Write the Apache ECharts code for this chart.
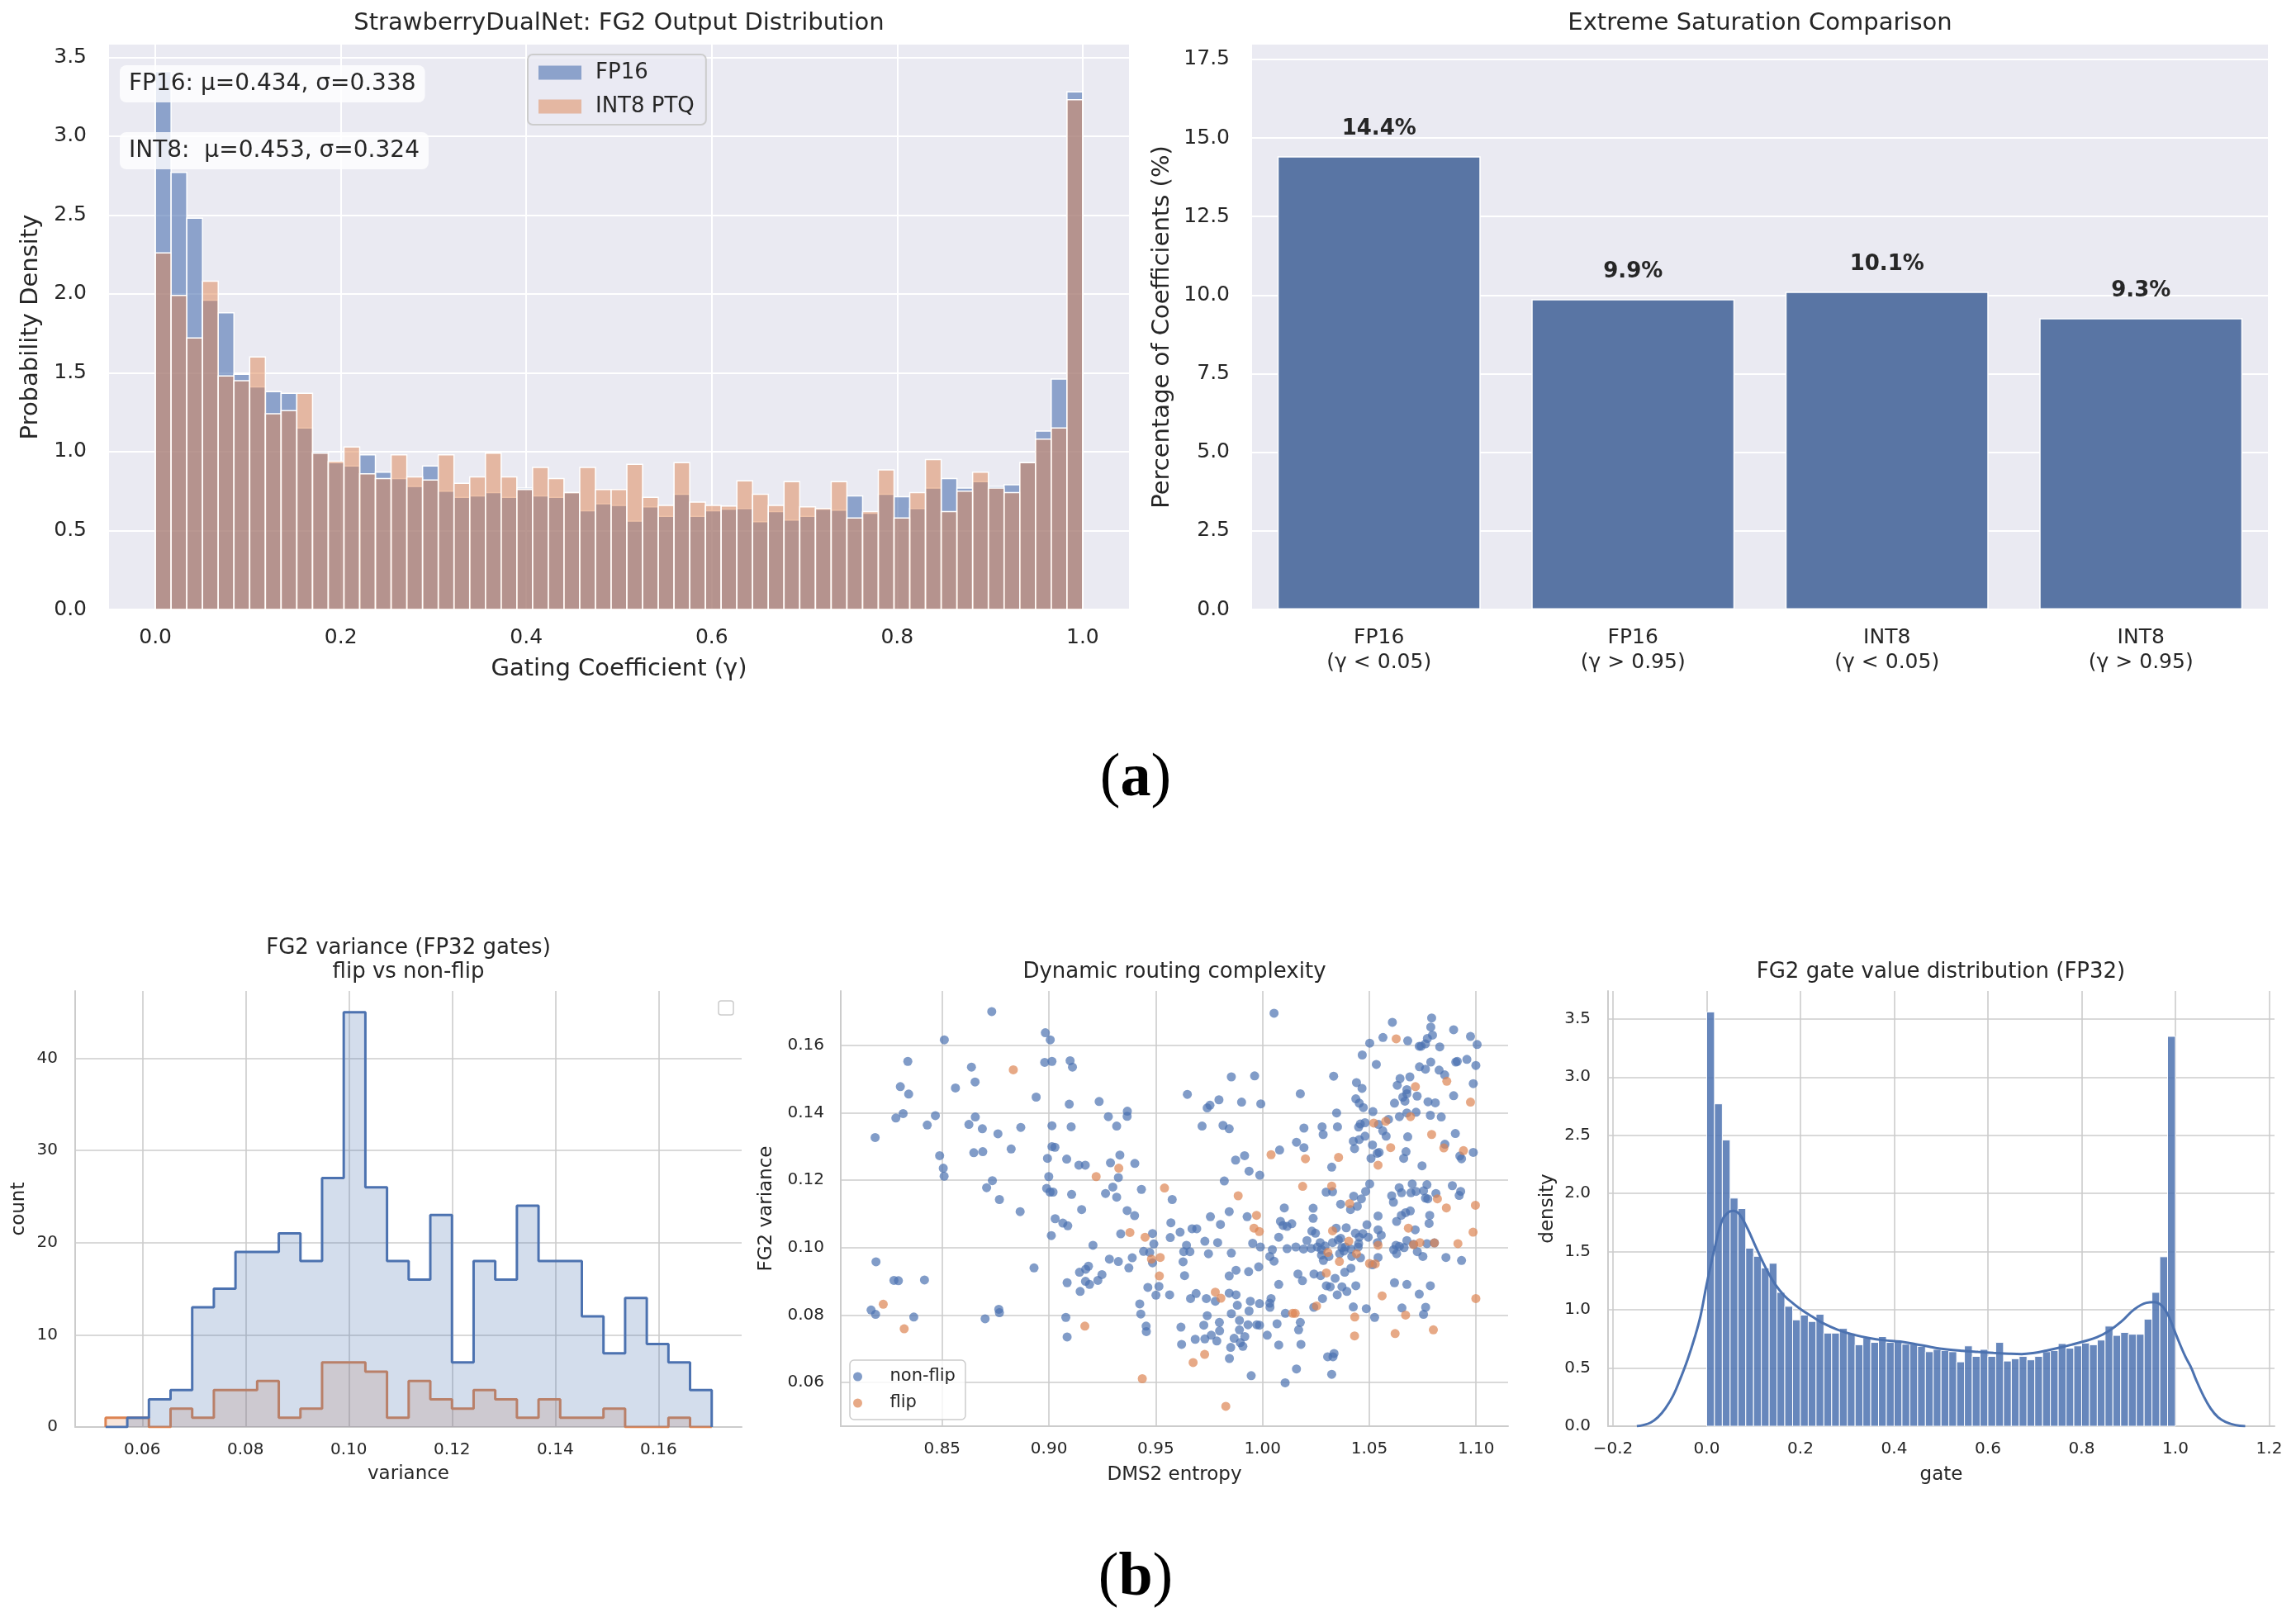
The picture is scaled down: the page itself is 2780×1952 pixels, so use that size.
<!DOCTYPE html>
<html><head><meta charset="utf-8">
<script src="https://cdn.jsdelivr.net/npm/echarts@6/dist/echarts.min.js"></script>
<style>html,body{margin:0;padding:0;background:#fff}#c{width:2780px;height:1952px}</style>
</head><body><div id="c"></div>
<script>
// ---------------- DATA ----------------
// (a) left: FG2 output distribution, 59 bins over [0,1]
const gammaBinCount = 59;
const fg2Fp16 = [3.41,2.77,2.48,1.96,1.88,1.49,1.41,1.38,1.37,1.15, 1.00,0.93,0.91,0.98,0.87,0.83,0.78,0.91,0.75,0.71, 0.72,0.74,0.71,0.77,0.72,0.71,0.74,0.625,0.67,0.66, 0.56,0.65,0.59,0.73,0.59,0.625,0.636,0.64,0.556,0.62, 0.567,0.59,0.636,0.63,0.72,0.61,0.73,0.715,0.64,0.77, 0.83,0.77,0.81,0.78,0.79,0.93,1.13,1.46,3.28];
const fg2Int8 = [2.26,1.99,1.72,2.08,1.48,1.45,1.60,1.24,1.26,1.37, 0.99,0.94,1.03,0.86,0.83,0.98,0.84,0.82,0.98,0.80, 0.84,0.99,0.84,0.76,0.90,0.83,0.74,0.90,0.76,0.76, 0.92,0.71,0.66,0.93,0.68,0.66,0.655,0.815,0.73,0.66, 0.81,0.65,0.64,0.81,0.58,0.62,0.885,0.58,0.74,0.95, 0.62,0.75,0.87,0.77,0.74,0.93,1.08,1.15,3.23];
const ticksGamma = [0,0.2,0.4,0.6,0.8,1.0];
const ticksDensTop = [0,0.5,1.0,1.5,2.0,2.5,3.0,3.5];

// (a) right: extreme saturation
const satCategories = ['FP16\n(\u03b3 < 0.05)','FP16\n(\u03b3 > 0.95)','INT8\n(\u03b3 < 0.05)','INT8\n(\u03b3 > 0.95)'];
const satValues = [14.42, 9.87, 10.11, 9.27];
const ticksPct = [0,2.5,5,7.5,10,12.5,15,17.5];

// (b) left: variance histogram (28 common bins)
const varBinLo = 0.0529, varBinHi = 0.1703;
const varNonFlipCounts = [0,1,3,4,13,15,19,19,21,18,27,45,26,18,16,23,7,18,16,24,18,18,12,8,14,9,7,4];
const varFlipCounts    = [1,1,0,2,1,4,4,5,1,2,7,7,6,1,5,3,2,4,3,1,3,1,1,2,0,0,1,0];
const ticksVar = [0.06,0.08,0.10,0.12,0.14,0.16];
const ticksCount = [0,10,20,30,40];

// (b) middle: scatter [DMS2 entropy, FG2 variance]
const scatterNonFlip = [
[0.8732,0.1701],[0.8983,0.1638],[0.9006,0.1617],[0.851,0.1617],[0.8339,0.1553],[0.8637,0.1536],[0.898,0.155],[0.9014,0.1553],[0.9099,0.1555],[0.911,0.1536],[0.8304,0.1478],[0.8343,0.1456],[0.8562,0.1474],[0.8654,0.1492],[0.894,0.1447],[0.9095,0.1426],[0.9235,0.1434],[0.9367,0.1405],[0.9366,0.139],[0.9278,0.1389],[0.9317,0.1361],[0.8317,0.1398],[0.8283,0.1385],[0.8468,0.1392],[0.843,0.1364],[0.8655,0.1388],[0.8625,0.1366],[0.8688,0.1353],[0.8761,0.1338],[0.8868,0.1357],[0.9014,0.1362],[0.9104,0.1359],[0.8186,0.1327],[0.8488,0.1273],[0.8648,0.1282],[0.869,0.1285],[0.8823,0.1293],[0.9014,0.13],[0.9028,0.1298],[0.8993,0.1265],[0.9083,0.1263],[0.914,0.1245],[0.917,0.1245],[0.9288,0.1252],[0.9332,0.1275],[0.9402,0.125],[0.9325,0.1208],[0.8505,0.1236],[0.8509,0.1212],[0.8735,0.1199],[0.8708,0.1178],[0.8999,0.1211],[0.8989,0.1176],[0.9005,0.1165],[0.9019,0.1165],[0.9106,0.1158],[0.9265,0.1161],[0.9299,0.118],[0.9317,0.115],[0.9433,0.1173],[0.9577,0.1143],[0.8768,0.1143],
[1.0054,0.1696],[1.0608,0.1669],[1.0792,0.1682],[1.0788,0.1655],[1.0895,0.1647],[1.0796,0.1631],[1.0772,0.1621],[1.0564,0.1624],[1.068,0.1614],[1.0502,0.1607],[1.0734,0.1598],[1.0743,0.1598],[1.0763,0.1605],[1.083,0.1596],[1.0974,0.1627],[1.1005,0.1603],[1.0467,0.1572],[1.0533,0.1544],[1.0788,0.1551],[1.0735,0.1537],[1.0763,0.153],[1.0827,0.1527],[1.0853,0.1513],[1.0905,0.1551],[1.0912,0.1553],[1.0957,0.1559],[1.0999,0.1541],[1.0987,0.1487],[1.0895,0.1451],[0.9854,0.1507],[0.9963,0.151],[1.0333,0.1509],[1.044,0.149],[1.0466,0.1473],[1.0644,0.1502],[1.069,0.1507],[1.0631,0.1482],[1.0676,0.1469],[1.0676,0.1457],[1.0657,0.1447],[1.0667,0.1435],[1.0618,0.1429],[1.0724,0.145],[1.0775,0.1433],[1.0809,0.143],[1.0437,0.1442],[1.0453,0.1429],[1.0472,0.1416],[1.0517,0.1404],[0.9648,0.1455],[0.9741,0.1415],[0.9754,0.1423],[0.9796,0.1439],[0.9902,0.1432],[0.9992,0.1427],[1.0177,0.1457],[1.0347,0.14],[1.0676,0.14],[1.0719,0.1402],[1.0786,0.1393],[1.0837,0.1388],[1.0641,0.1389],[0.9717,0.1361],[0.9815,0.1363],[0.9844,0.1353],[1.0194,0.1355],[1.0279,0.1359],[1.0284,0.1336],[1.0351,0.1359],[1.0458,0.1367],[1.045,0.1358],[1.048,0.1371],[1.059,0.1381],[1.0543,0.1366],[1.0563,0.1347],[1.0579,0.1331],[1.048,0.1331],[1.0453,0.1321],[1.0425,0.1316],[1.0431,0.1294],[1.0515,0.1305],[1.068,0.1329],[1.0903,0.1339],[1.0854,0.1307],[1.0924,0.1272],[1.0932,0.1264],[1.0987,0.1283],[1.0672,0.1285],[1.0661,0.1265],[1.0546,0.1283],[1.0537,0.128],[1.0508,0.1265],[1.0747,0.1243],[1.0159,0.1313],[1.0194,0.1297],[1.008,0.129],[1.0324,0.1239],[0.9874,0.126],[0.9916,0.1273],[0.9937,0.1227],[0.9987,0.1215],[0.9821,0.1198],[1.0298,0.1165],[1.0328,0.1166],[1.0502,0.1189],[1.0483,0.1167],[1.0427,0.1153],[1.0463,0.1145],[1.064,0.1178],[1.0651,0.1163],[1.0701,0.1189],[1.0695,0.1163],[1.0719,0.1167],[1.077,0.1187],[1.0754,0.1169],[1.0812,0.1161],[1.0889,0.1184],[1.0928,0.1167],[1.0921,0.1155],[1.0763,0.1147],[1.0774,0.1145],[1.0605,0.1154],[1.0613,0.1135],
[0.8865,0.1107],[0.9153,0.1113],[0.9366,0.111],[0.9401,0.1095],[0.9029,0.1086],[0.9065,0.1073],[0.9088,0.1065],[0.9011,0.1036],[0.9336,0.1041],[0.9485,0.1042],[0.9571,0.1074],[0.9568,0.103],[0.9206,0.1007],[0.9491,0.1011],[0.9443,0.0989],[0.9472,0.0986],[0.9485,0.0955],[0.9283,0.0966],[0.9325,0.0959],[0.939,0.097],[0.9374,0.094],[0.819,0.0958],[0.8274,0.0903],[0.8295,0.0902],[0.8417,0.0904],[0.893,0.094],[0.9143,0.0927],[0.9172,0.0936],[0.9185,0.0945],[0.9248,0.092],[0.9229,0.0903],[0.9171,0.09],[0.919,0.0891],[0.9085,0.0896],[0.9146,0.087],[0.9463,0.0882],[0.9515,0.0885],[0.9501,0.0859],[0.9565,0.086],[0.9425,0.0833],[0.943,0.0803],[0.9455,0.0767],[0.9456,0.0751],[0.9079,0.0793],[0.9085,0.0735],[0.8167,0.0815],[0.8188,0.0802],[0.8367,0.0794],[0.8701,0.0789],[0.8765,0.0817],[0.8768,0.0807],
[0.9614,0.1046],[0.9644,0.1007],[0.9631,0.0988],[0.966,0.0988],[0.9628,0.0958],[0.9635,0.0917],[0.9618,0.0764],[0.9621,0.0713],[0.967,0.1056],[0.9692,0.1056],[0.9756,0.1092],[0.9803,0.1069],[0.9844,0.1107],[0.9928,0.1092],[0.973,0.1019],[0.979,0.1015],[0.9747,0.0982],[0.9854,0.0984],[0.9954,0.1013],[0.999,0.1002],[0.9844,0.0916],[0.9876,0.0933],[0.9935,0.0929],[0.9982,0.0943],[1.0102,0.1118],[1.0084,0.1078],[1.0096,0.1066],[1.0115,0.1063],[1.0137,0.1071],[1.0076,0.1031],[1.0046,0.0994],[1.0034,0.0974],[1.0054,0.096],[1.0115,0.0997],[1.0156,0.1002],[1.0192,0.0996],[1.0237,0.1117],[1.0237,0.1087],[1.0231,0.1049],[1.0248,0.1043],[1.0208,0.1021],[1.0228,0.0998],[1.0257,0.1002],[1.027,0.1015],[1.0276,0.0994],[1.0293,0.1005],[1.0345,0.1058],[1.0328,0.1015],[1.0355,0.1023],[1.0366,0.1028],[1.0392,0.1059],[1.0372,0.1],[1.0388,0.1002],[1.0381,0.099],[1.0361,0.0982],[1.0414,0.0996],[1.0435,0.1043],[1.0453,0.1031],[1.047,0.1042],[1.0495,0.1031],[1.0489,0.1068],[1.045,0.1012],[1.0448,0.1002],[1.0418,0.0974],[1.0459,0.097],[1.0276,0.0978],[1.0311,0.0974],[1.0285,0.0962],[1.0515,0.0949],[1.0538,0.1015],[1.0541,0.0971],[1.0541,0.1053],[1.0556,0.1037],[1.0541,0.1094],[1.0628,0.1078],[1.065,0.1096],[1.067,0.1104],[1.0692,0.1109],[1.0715,0.1053],[1.0676,0.1021],[1.0708,0.101],[1.077,0.1012],[1.0805,0.1014],[1.0614,0.0994],[1.0628,0.0982],[1.0641,0.1004],[1.0663,0.1],[1.0625,0.1007],[1.0725,0.0988],[1.0751,0.0974],[1.0783,0.1096],[1.078,0.1072],[1.0859,0.0971],[1.0932,0.0962],[1.0618,0.0896],[1.0676,0.0891],[1.0786,0.0887],[1.0734,0.0862],[1.0653,0.0821],[1.0764,0.0823],[1.0754,0.0802],[1.0486,0.0819],[1.0525,0.0793],[1.0425,0.0824],[1.0166,0.0922],[1.0187,0.0902],[1.0241,0.0922],[1.0272,0.0917],[1.034,0.0909],[1.0385,0.0927],[1.0414,0.0939],[1.0299,0.0887],[1.0317,0.0884],[1.0372,0.0884],[1.0395,0.087],[1.0437,0.0887],[1.035,0.086],[1.0281,0.0849],[1.024,0.0823],[1.0076,0.0891],[1.004,0.0849],[1.0034,0.0835],[1.0035,0.0823],[0.9986,0.0834],[0.9943,0.0841],[0.9937,0.0812],[0.9882,0.0829],[0.9876,0.086],[0.9844,0.0865],[0.9779,0.0841],[0.9737,0.0849],[0.9689,0.0864],[0.9663,0.0849],[0.9741,0.0798],[0.9854,0.0804],[0.9725,0.077],[0.9798,0.0778],[0.9799,0.0753],[0.976,0.074],[0.973,0.0729],[0.9685,0.0728],[0.9786,0.0723],[0.9892,0.0784],[0.9892,0.0756],[0.9932,0.0771],[0.9973,0.0771],[0.9986,0.077],[0.9867,0.0731],[0.9917,0.0736],[0.9896,0.0718],[0.9908,0.0707],[0.9851,0.0704],[0.9845,0.0671],[1.0022,0.074],[1.0068,0.0774],[1.0076,0.0711],[1.0107,0.0805],[1.0177,0.0778],[1.0169,0.0756],[1.018,0.0713],[0.9947,0.062],[1.0159,0.064],[1.0106,0.0599],[1.0305,0.0676],[1.0335,0.0686],[1.033,0.0676],[1.0324,0.0624],[1.0366,0.1129],[1.0412,0.1113],[1.0444,0.1123]
];
const scatterFlip = [
[0.8833,0.1528],[0.9327,0.1236],[0.9221,0.1211],[0.9541,0.1177],
[1.0626,0.162],[1.0863,0.1494],[1.0974,0.1432],[1.0716,0.1478],[1.0693,0.1389],[1.0521,0.137],[1.0577,0.1375],[1.0792,0.1336],[1.0849,0.1296],[1.0941,0.1288],[1.06,0.1297],[1.0541,0.1245],[1.004,0.1276],[1.0201,0.1264],[1.0356,0.1268],[0.9886,0.1154],[1.0188,0.1182],[1.0324,0.1183],[1.0819,0.1145],
[0.9379,0.1045],[0.945,0.1031],[0.948,0.0966],[0.9521,0.0971],[0.9517,0.0916],[0.9168,0.0767],[0.8224,0.0832],[0.8322,0.0759],[0.9437,0.0611],
[0.9972,0.1096],[0.996,0.1058],[0.9985,0.1048],[1.0328,0.105],[1.0404,0.1019],[1.044,0.0982],[1.0306,0.0986],[1.036,0.0959],[1.0501,0.0953],[1.0528,0.0952],[1.0541,0.1007],[1.0683,0.1058],[1.0707,0.1009],[1.0737,0.1015],[1.0805,0.1014],[1.0861,0.1118],[1.0997,0.1126],[1.0986,0.1046],[1.0915,0.1012],[1.0999,0.0849],[1.056,0.0857],[1.067,0.08],[1.0621,0.0745],[1.08,0.0756],[1.0432,0.0794],[1.0431,0.0738],[1.0299,0.0925],[1.0253,0.0827],[0.9779,0.0868],[0.9805,0.085],[1.0141,0.0805],[1.0153,0.0805],[0.9729,0.0683],[0.9675,0.0659],[0.9828,0.0529],[1.0408,0.1131]
];
const ticksEntropy = [0.85,0.90,0.95,1.00,1.05,1.10];

// (b) right: gate distribution (60 bins over [0,1]) + KDE
const gateBinCount = 60;
const gateDensity = [3.56,2.77,2.46,1.96,1.87,1.53,1.46,1.36,1.40,1.15, 1.03,0.914,0.955,0.90,0.962,0.80,0.80,0.84,0.80,0.70, 0.76,0.72,0.77,0.72,0.73,0.705,0.705,0.686,0.64,0.66, 0.65,0.64,0.553,0.69,0.60,0.66,0.60,0.72,0.56,0.58, 0.60,0.57,0.60,0.64,0.65,0.71,0.67,0.69,0.715,0.70, 0.74,0.86,0.78,0.806,0.79,0.79,0.92,1.15,1.456,3.35];
const kdeX = [-0.149,-0.135,-0.12,-0.104,-0.088,-0.072,-0.057,-0.041,-0.025,-0.013,0.0,0.017,0.033,0.047,0.057,0.07,0.087,0.106,0.126,0.146,0.166,0.186,0.206,0.226,0.246,0.279,0.313,0.346,0.379,0.413,0.446,0.479,0.512,0.546,0.579,0.612,0.645,0.672,0.699,0.725,0.752,0.778,0.805,0.832,0.858,0.885,0.911,0.938,0.955,0.971,0.985,1.001,1.021,1.034,1.044,1.06,1.075,1.091,1.107,1.128,1.149];
const kdeY = [0,0.01,0.03,0.077,0.154,0.26,0.40,0.57,0.77,0.95,1.22,1.53,1.77,1.84,1.85,1.82,1.70,1.53,1.36,1.22,1.12,1.05,0.99,0.94,0.89,0.83,0.787,0.758,0.739,0.727,0.705,0.68,0.66,0.647,0.638,0.63,0.623,0.62,0.63,0.65,0.674,0.70,0.729,0.763,0.818,0.90,1.00,1.06,1.066,1.035,0.95,0.79,0.60,0.50,0.40,0.26,0.154,0.077,0.037,0.01,0];
const ticksGate = [-0.2,0,0.2,0.4,0.6,0.8,1.0,1.2];
const ticksGateDens = [0,0.5,1.0,1.5,2.0,2.5,3.0,3.5];

// ---------------- CHART ----------------
const FONT = 'DejaVu Sans';
const TXT = '#262626';
const BLUE = '#4C72B0', ORANGE = '#DD8452';

const toBins = (vals, n) => vals.map((h, i) => [i / n, (i + 1) / n, h]);
function histRender(fill, lw) {
  return function (params, api) {
    const a = api.coord([api.value(0), api.value(2)]);
    const b = api.coord([api.value(1), 0]);
    return { type: 'rect', shape: { x: a[0], y: a[1], width: b[0] - a[0], height: b[1] - a[1] },
      style: { fill: fill, stroke: '#ffffff', lineWidth: lw } };
  };
}
function stepOutline(counts) {
  const n = counts.length, w = (varBinHi - varBinLo) / n;
  const pts = [[varBinLo, 0]];
  for (let i = 0; i < n; i++) { const a = varBinLo + i * w; pts.push([a, counts[i]], [a + w, counts[i]]); }
  pts.push([varBinHi, 0]);
  return pts;
}
const f1 = v => v.toFixed(1), f2 = v => v.toFixed(2);

function axisDark(gi, min, max, ticks, fmt, name, gap, labelMargin) {
  return { gridIndex: gi, type: 'value', min: min, max: max,
    axisLine: { show: false, onZero: false }, axisTick: { show: false, customValues: ticks },
    axisLabel: { customValues: ticks, formatter: fmt, fontSize: 25, color: TXT, fontFamily: FONT, margin: labelMargin },
    splitLine: { show: true, lineStyle: { color: '#ffffff', width: 2 } },
    name: name, nameLocation: 'middle', nameGap: gap,
    nameTextStyle: { fontSize: 29, color: TXT, fontFamily: FONT } };
}
function axisWhite(gi, min, max, ticks, fmt, name, gap, labelMargin) {
  return { gridIndex: gi, type: 'value', min: min, max: max,
    axisLine: { show: true, onZero: false, lineStyle: { color: '#cccccc', width: 2 } },
    axisTick: { show: false, customValues: ticks },
    axisLabel: { customValues: ticks, formatter: fmt, fontSize: 20, color: TXT, fontFamily: FONT, margin: labelMargin },
    splitLine: { show: true, lineStyle: { color: '#cccccc', width: 1.6 } },
    name: name, nameLocation: 'middle', nameGap: gap,
    nameTextStyle: { fontSize: 23, color: TXT, fontFamily: FONT } };
}

const chart = echarts.init(document.getElementById('c'), null, { renderer: 'canvas' });
const option = {
  animation: false,
  backgroundColor: '#ffffff',
  textStyle: { fontFamily: FONT, color: TXT },
  grid: [
    { left: 132, top: 54, width: 1235, height: 684, show: true, backgroundColor: '#EAEAF2', borderWidth: 0 },
    { left: 1516, top: 54, width: 1230, height: 684, show: true, backgroundColor: '#EAEAF2', borderWidth: 0 },
    { left: 91, top: 1200, width: 807, height: 528 },
    { left: 1018, top: 1200, width: 808, height: 527 },
    { left: 1947, top: 1200, width: 807, height: 527 }
  ],
  xAxis: [
    axisDark(0, -0.05, 1.05, ticksGamma, f1, 'Gating Coefficient (\u03b3)', 58, 22),
    { gridIndex: 1, type: 'category', data: satCategories,
      axisLine: { show: false }, axisTick: { show: false },
      axisLabel: { interval: 0, fontSize: 25, lineHeight: 30, color: TXT, fontFamily: FONT, margin: 19 },
      splitLine: { show: false } },
    axisWhite(2, 0.047, 0.1761, ticksVar, f2, 'variance', 46, 18),
    axisWhite(3, 0.8025, 1.115, ticksEntropy, f2, 'DMS2 entropy', 48, 18),
    axisWhite(4, -0.2105, 1.2115, ticksGate, v => (v < 0 ? '\u2212' : '') + Math.abs(v).toFixed(1), 'gate', 48, 18)
  ],
  yAxis: [
    axisDark(0, 0, 3.58, ticksDensTop, f1, 'Probability Density', 80, 27),
    axisDark(1, 0, 17.97, ticksPct, f1, 'Percentage of Coefficients (%)', 94, 27),
    axisWhite(2, 0, 47.3, ticksCount, v => String(v), 'count', 56, 21),
    axisWhite(3, 0.047, 0.1762, ticksVar, f2, 'FG2 variance', 78, 20),
    axisWhite(4, 0, 3.74, ticksGateDens, f1, 'density', 61, 21)
  ],
  legend: [
    { data: ['FP16', 'INT8 PTQ'], orient: 'vertical', left: 639, top: 66, icon: 'rect',
      itemWidth: 52, itemHeight: 17, itemGap: 15, selectedMode: false,
      backgroundColor: 'rgba(234,234,242,0.8)', borderColor: '#cccccc', borderWidth: 2, borderRadius: 6,
      padding: [9, 14, 9, 13],
      textStyle: { fontSize: 26, color: TXT, fontFamily: FONT, padding: [0, 0, 0, 12] } },
    { data: ['non-flip', 'flip'], orient: 'vertical', left: 1029, top: 1647, icon: 'circle',
      itemWidth: 52, itemHeight: 11, itemGap: 10, selectedMode: false,
      backgroundColor: 'rgba(255,255,255,0.8)', borderColor: '#cccccc', borderWidth: 1.5, borderRadius: 5,
      padding: [9, 12, 9, 4],
      textStyle: { fontSize: 21, color: TXT, fontFamily: FONT, lineHeight: 22, padding: [0, 0, 0, 8] } }
  ],
  series: [
    { name: 'FP16', type: 'custom', xAxisIndex: 0, yAxisIndex: 0, data: toBins(fg2Fp16, gammaBinCount),
      encode: { x: [0, 1], y: 2 }, itemStyle: { color: 'rgba(76,114,176,0.6)' },
      renderItem: histRender('rgba(76,114,176,0.6)', 1.5) },
    { name: 'INT8 PTQ', type: 'custom', xAxisIndex: 0, yAxisIndex: 0, data: toBins(fg2Int8, gammaBinCount),
      encode: { x: [0, 1], y: 2 }, itemStyle: { color: 'rgba(221,132,82,0.5)' },
      renderItem: histRender('rgba(221,132,82,0.5)', 1.5) },
    { name: 'saturation', type: 'bar', xAxisIndex: 1, yAxisIndex: 1, data: satValues, barWidth: '80%',
      itemStyle: { color: '#5975A4', borderColor: '#ffffff', borderWidth: 1.5 },
      label: { show: true, position: 'top', distance: 20, formatter: p => p.value.toFixed(1) + '%',
        fontSize: 26, fontWeight: 'bold', color: TXT, fontFamily: FONT } },
    { name: 'flip-hist', type: 'line', z: 2, xAxisIndex: 2, yAxisIndex: 2, data: stepOutline(varFlipCounts),
      showSymbol: false, symbol: 'none', lineStyle: { color: ORANGE, width: 3 },
      itemStyle: { color: ORANGE }, areaStyle: { color: 'rgba(221,132,82,0.3)' } },
    { name: 'nonflip-hist', type: 'line', z: 3, xAxisIndex: 2, yAxisIndex: 2, data: stepOutline(varNonFlipCounts),
      showSymbol: false, symbol: 'none', lineStyle: { color: BLUE, width: 3 },
      itemStyle: { color: BLUE }, areaStyle: { color: 'rgba(76,114,176,0.35)' } },
    { name: 'non-flip', type: 'scatter', xAxisIndex: 3, yAxisIndex: 3, data: scatterNonFlip,
      symbolSize: 11, itemStyle: { color: BLUE, opacity: 0.7 } },
    { name: 'flip', type: 'scatter', xAxisIndex: 3, yAxisIndex: 3, data: scatterFlip,
      symbolSize: 11, itemStyle: { color: ORANGE, opacity: 0.7 } },
    { name: 'gate-hist', type: 'custom', xAxisIndex: 4, yAxisIndex: 4, data: toBins(gateDensity, gateBinCount),
      encode: { x: [0, 1], y: 2 }, renderItem: histRender('rgba(76,114,176,0.85)', 1) },
    { name: 'gate-kde', type: 'line', xAxisIndex: 4, yAxisIndex: 4, data: kdeX.map((x, i) => [x, kdeY[i]]),
      smooth: 0.4, showSymbol: false, symbol: 'none', lineStyle: { color: BLUE, width: 3 } }
  ],
  graphic: [
    { type: 'text', x: 749.5, y: 28, z: 50, style: { text: 'StrawberryDualNet: FG2 Output Distribution', fontSize: 29, fontFamily: FONT, fill: TXT, align: 'center', verticalAlign: 'middle' } },
    { type: 'text', x: 2131, y: 28, z: 50, style: { text: 'Extreme Saturation Comparison', fontSize: 29, fontFamily: FONT, fill: TXT, align: 'center', verticalAlign: 'middle' } },
    { type: 'text', x: 494.5, y: 1162.5, z: 50, style: { text: 'FG2 variance (FP32 gates)\nflip vs non-flip', fontSize: 26, lineHeight: 29, fontFamily: FONT, fill: TXT, align: 'center', verticalAlign: 'middle' } },
    { type: 'text', x: 1422, y: 1177, z: 50, style: { text: 'Dynamic routing complexity', fontSize: 26, fontFamily: FONT, fill: TXT, align: 'center', verticalAlign: 'middle' } },
    { type: 'text', x: 2350, y: 1177, z: 50, style: { text: 'FG2 gate value distribution (FP32)', fontSize: 26, fontFamily: FONT, fill: TXT, align: 'center', verticalAlign: 'middle' } },
    { type: 'text', x: 145, y: 101.5, z: 50, style: { text: 'FP16: \u03bc=0.434, \u03c3=0.338', fontSize: 28, lineHeight: 31, fontFamily: FONT, fill: TXT, align: 'left', verticalAlign: 'middle', backgroundColor: 'rgba(255,255,255,0.8)', padding: [7, 11, 7, 11], borderRadius: 8 } },
    { type: 'text', x: 145, y: 182.5, z: 50, style: { text: 'INT8:  \u03bc=0.453, \u03c3=0.324', fontSize: 28, lineHeight: 31, fontFamily: FONT, fill: TXT, align: 'left', verticalAlign: 'middle', backgroundColor: 'rgba(255,255,255,0.8)', padding: [7, 11, 7, 11], borderRadius: 8 } },
    { type: 'rect', x: 870, y: 1212, z: 50, shape: { x: 0, y: 0, width: 18, height: 17, r: 3 }, style: { fill: '#ffffff', stroke: '#cccccc', lineWidth: 1.5 } },
    { type: 'text', x: 1375, y: 944, z: 50, style: { text: '{p|(}{b|a}{p|)}', align: 'center', verticalAlign: 'middle',
      rich: { p: { fontFamily: 'Liberation Serif', fontSize: 74, fill: '#000' }, b: { fontFamily: 'Liberation Serif', fontSize: 74, fontWeight: 'bold', fill: '#000' } } } },
    { type: 'text', x: 1375, y: 1912, z: 50, style: { text: '{p|(}{b|b}{p|)}', align: 'center', verticalAlign: 'middle',
      rich: { p: { fontFamily: 'Liberation Serif', fontSize: 74, fill: '#000' }, b: { fontFamily: 'Liberation Serif', fontSize: 74, fontWeight: 'bold', fill: '#000' } } } }
  ]
};
chart.setOption(option);
</script>
</body></html>
